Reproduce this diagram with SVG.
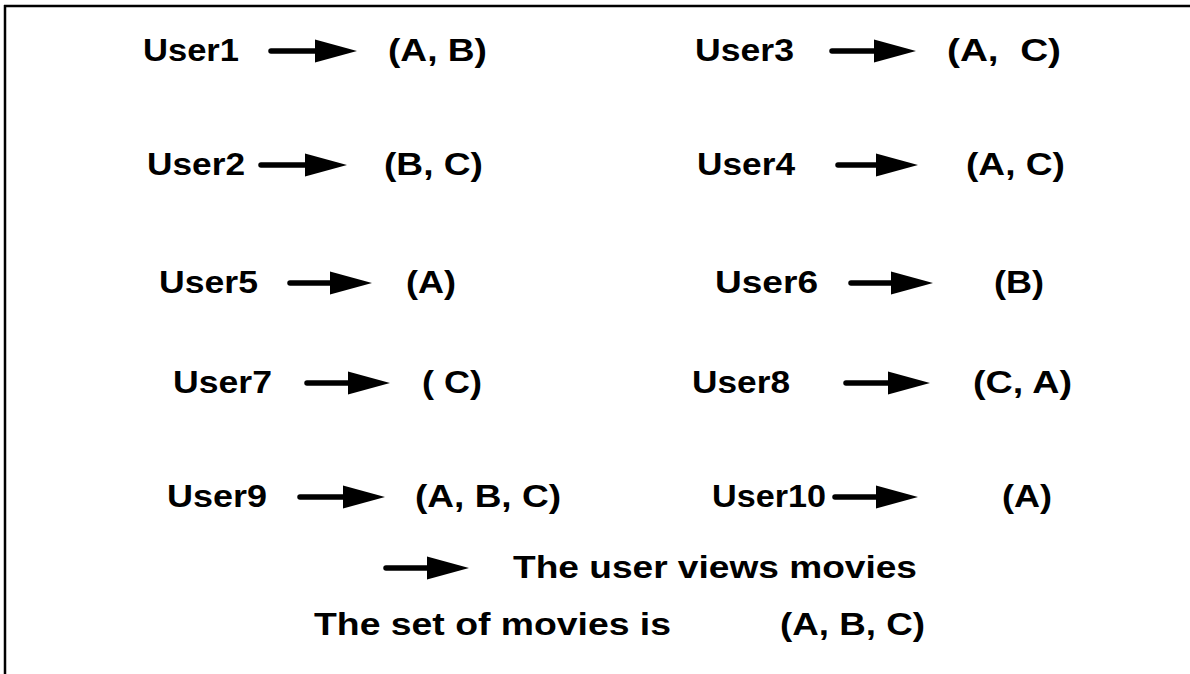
<svg xmlns="http://www.w3.org/2000/svg" width="1190" height="674" viewBox="0 0 1190 674">
  <defs>
    <style>
      .lbl { font-family: "Liberation Sans", Arial, sans-serif; font-weight: bold; font-size: 31px; fill: #000; white-space: pre; }
      .shaft { stroke: #000; stroke-width: 5.5; stroke-linecap: round; fill: none; marker-end: url(#head); }
      .frame { stroke: #000; stroke-width: 2.5; fill: none; }
    </style>
    <marker id="head" markerUnits="userSpaceOnUse" markerWidth="46" markerHeight="24" refX="4" refY="12" orient="auto" overflow="visible">
      <path d="M0,0.5 L42,12 L0,23.5 Z" fill="#000"/>
    </marker>
  </defs>
  <rect width="1190" height="674" fill="#fff"/>

  <!-- frame: top and left edges only -->
  <g id="frame">
    <line class="frame" x1="4" y1="6" x2="1190" y2="6"/>
    <line class="frame" x1="5" y1="5" x2="5" y2="674"/>
  </g>

  <!-- view arrows -->
  <g id="connectors">
    <line class="shaft" x1="271" y1="51" x2="319" y2="51"/>
    <line class="shaft" x1="832" y1="51" x2="878" y2="51"/>
    <line class="shaft" x1="261" y1="165" x2="309" y2="165"/>
    <line class="shaft" x1="838" y1="165" x2="880" y2="165"/>
    <line class="shaft" x1="290" y1="283" x2="334" y2="283"/>
    <line class="shaft" x1="851" y1="283" x2="895" y2="283"/>
    <line class="shaft" x1="307" y1="383" x2="352" y2="383"/>
    <line class="shaft" x1="846" y1="383" x2="892" y2="383"/>
    <line class="shaft" x1="300" y1="497" x2="347" y2="497"/>
    <line class="shaft" x1="835" y1="497" x2="880" y2="497"/>
  </g>

  <g id="user1"><text class="lbl" x="143" y="61" textLength="96" lengthAdjust="spacingAndGlyphs">User1</text>
    <text class="lbl" x="388" y="61" textLength="99" lengthAdjust="spacingAndGlyphs">(A, B)</text></g>
  <g id="user3"><text class="lbl" x="695" y="61" textLength="99" lengthAdjust="spacingAndGlyphs">User3</text>
    <text class="lbl" x="947" y="61" textLength="114" lengthAdjust="spacingAndGlyphs">(A,  C)</text></g>
  <g id="user2"><text class="lbl" x="147" y="175" textLength="98" lengthAdjust="spacingAndGlyphs">User2</text>
    <text class="lbl" x="384" y="175" textLength="99" lengthAdjust="spacingAndGlyphs">(B, C)</text></g>
  <g id="user4"><text class="lbl" x="697" y="175" textLength="98" lengthAdjust="spacingAndGlyphs">User4</text>
    <text class="lbl" x="966" y="175" textLength="99" lengthAdjust="spacingAndGlyphs">(A, C)</text></g>
  <g id="user5"><text class="lbl" x="159" y="293" textLength="99" lengthAdjust="spacingAndGlyphs">User5</text>
    <text class="lbl" x="406" y="293" textLength="50" lengthAdjust="spacingAndGlyphs">(A)</text></g>
  <g id="user6"><text class="lbl" x="715" y="293" textLength="103" lengthAdjust="spacingAndGlyphs">User6</text>
    <text class="lbl" x="994" y="293" textLength="50" lengthAdjust="spacingAndGlyphs">(B)</text></g>
  <g id="user7"><text class="lbl" x="173" y="393" textLength="99" lengthAdjust="spacingAndGlyphs">User7</text>
    <text class="lbl" x="422" y="393" textLength="60" lengthAdjust="spacingAndGlyphs">( C)</text></g>
  <g id="user8"><text class="lbl" x="692" y="393" textLength="98" lengthAdjust="spacingAndGlyphs">User8</text>
    <text class="lbl" x="973" y="393" textLength="99" lengthAdjust="spacingAndGlyphs">(C, A)</text></g>
  <g id="user9"><text class="lbl" x="167" y="507" textLength="100" lengthAdjust="spacingAndGlyphs">User9</text>
    <text class="lbl" x="415" y="507" textLength="146" lengthAdjust="spacingAndGlyphs">(A, B, C)</text></g>
  <g id="user10"><text class="lbl" x="712" y="507" textLength="114" lengthAdjust="spacingAndGlyphs">User10</text>
    <text class="lbl" x="1002" y="507" textLength="50" lengthAdjust="spacingAndGlyphs">(A)</text></g>

  <!-- key -->
  <g id="legend">
    <line class="shaft" x1="386" y1="568" x2="431" y2="568"/>
    <text class="lbl" x="513" y="578" textLength="404" lengthAdjust="spacingAndGlyphs">The user views movies</text>
    <text class="lbl" x="314" y="635" textLength="357" lengthAdjust="spacingAndGlyphs">The set of movies is</text>
    <text class="lbl" x="780" y="635" textLength="145" lengthAdjust="spacingAndGlyphs">(A, B, C)</text>
  </g>
</svg>
